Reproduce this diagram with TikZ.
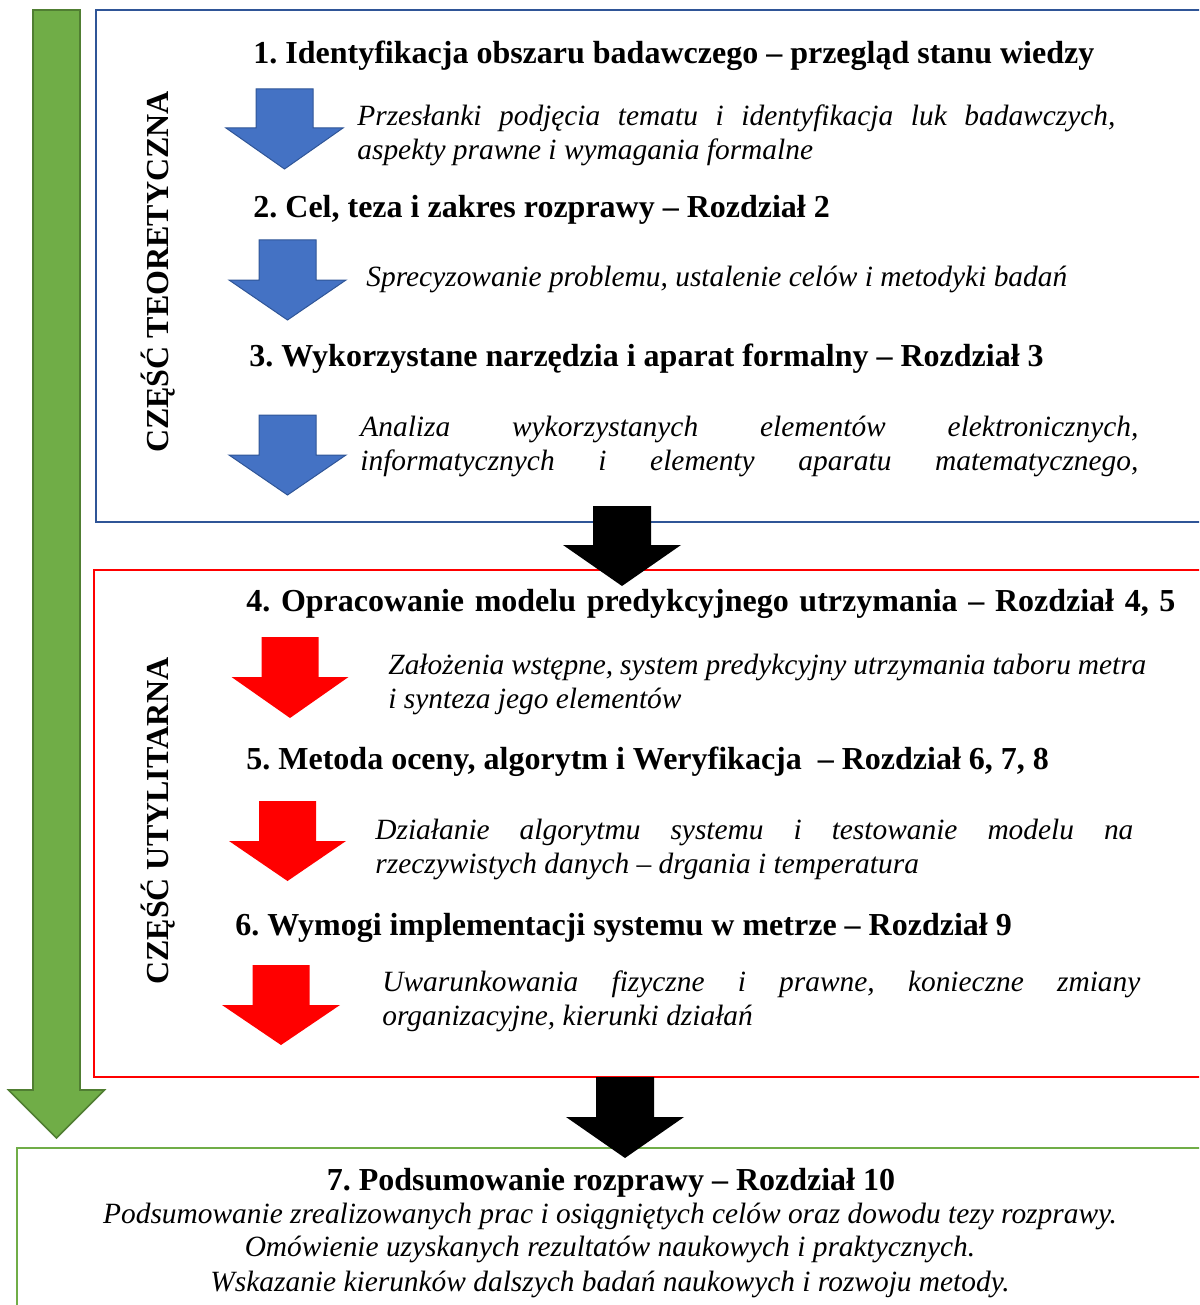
\documentclass[tikz,border=0pt]{standalone}
\usepackage{fontspec}
\setmainfont{Liberation Serif}
\frenchspacing
\definecolor{blueF}{HTML}{4472C4}
\definecolor{blueD}{HTML}{2F5597}
\definecolor{greenF}{HTML}{70AD47}
\definecolor{greenD}{HTML}{507E32}
\definecolor{redF}{HTML}{FF0000}

% block arrow pointing down: style, centre x, top y, head base y, tip y, shaft half width, head half width
\newcommand{\blkarrow}[7]{%
  \path[#1] (#2-#6,#3) -- (#2+#6,#3) -- (#2+#6,#4) -- (#2+#7,#4) -- (#2,#5)
    -- (#2-#7,#4) -- (#2-#6,#4) -- cycle;}

\tikzset{
  title/.style={anchor=base west, inner sep=0pt, font=\fontsize{16}{19}\selectfont\bfseries},
  desc/.style={anchor=base west, inner sep=0pt, font=\fontsize{14.7}{17}\selectfont\itshape},
  cdesc/.style={anchor=base, inner sep=0pt, font=\fontsize{14.7}{17}\selectfont\itshape},
  side/.style={rotate=90, inner sep=0pt, font=\fontsize{16}{19}\selectfont\bfseries},
  bluearrow/.style={fill=blueF, draw=blueD, line width=0.5pt},
  redarrow/.style={fill=redF},
  blackarrow/.style={fill=black},
  greenarrow/.style={fill=greenF, draw=greenD, line width=0.8pt},
  partbox/.style={line width=1pt}
}

\begin{document}
\begin{tikzpicture}[x=0.5pt, y=-0.5pt]
\useasboundingbox (0,0) rectangle (1199,1305);
\clip (0,0) rectangle (1199,1305);

% frames of the three parts
\draw[partbox, draw=blueD] (96,10) rectangle (1230,522);
\draw[partbox, draw=red] (94,570) rectangle (1230,1077);
\draw[partbox, draw=greenF] (17,1148) rectangle (1230,1340);

% long green arrow along the left side
\blkarrow{greenarrow}{56.5}{10}{1090}{1138}{23.5}{48}

% theoretical part
\node[side] (p1) at (158,272) {CZĘŚĆ TEORETYCZNA};
\node[title] (t1) at (253,64) {1. Identyfikacja obszaru badawczego – przegląd stanu wiedzy};
\blkarrow{bluearrow}{284.5}{89}{128}{169}{28.5}{58.5}
\node[desc] (d1a) at (357,126) {\makebox[379pt][s]{Przesłanki podjęcia tematu i identyfikacja luk badawczych,}};
\node[desc] (d1b) at (357,160) {aspekty prawne i wymagania formalne};
\node[title] (t2) at (253,218) {2. Cel, teza i zakres rozprawy – Rozdział 2};
\blkarrow{bluearrow}{287.5}{240}{280}{320}{28.5}{58.5}
\node[desc] (d2) at (366,286) {Sprecyzowanie problemu, ustalenie celów i metodyki badań};
\node[title] (t3) at (249,366) {3. Wykorzystane narzędzia i aparat formalny – Rozdział 3};
\blkarrow{bluearrow}{287.5}{415}{455}{495}{28.5}{58.5}
\node[desc] (d3a) at (360,436) {\makebox[389pt][s]{Analiza wykorzystanych elementów elektronicznych,}};
\node[desc] (d3b) at (360,470) {\makebox[389pt][s]{informatycznych i elementy aparatu matematycznego,}};

% utilitarian part
\node[side] (p2) at (158,821) {CZĘŚĆ UTYLITARNA};
\node[title] (t4) at (246,611) {\makebox[464.5pt][s]{4. Opracowanie modelu predykcyjnego utrzymania – Rozdział 4, 5}};
\blkarrow{redarrow}{290}{637}{677}{718}{28.5}{58.5}
\node[desc] (d4a) at (388,674) {\makebox[379pt][s]{Założenia wstępne, system predykcyjny utrzymania taboru metra}};
\node[desc] (d4b) at (388,708) {i synteza jego elementów};
\node[title] (t5) at (246,769) {5. Metoda oceny, algorytm i Weryfikacja \ – Rozdział 6, 7, 8};
\blkarrow{redarrow}{287.5}{801}{841}{881}{28.5}{58.5}
\node[desc] (d5a) at (375,839) {\makebox[379pt][s]{Działanie algorytmu systemu i testowanie modelu na}};
\node[desc] (d5b) at (375,873) {rzeczywistych danych – drgania i temperatura};
\node[title] (t6) at (235,935) {6. Wymogi implementacji systemu w metrze – Rozdział 9};
\blkarrow{redarrow}{281}{965}{1005}{1045}{28.5}{59}
\node[desc] (d6a) at (382,991) {\makebox[379pt][s]{Uwarunkowania fizyczne i prawne, konieczne zmiany}};
\node[desc] (d6b) at (382,1025) {organizacyjne, kierunki działań};

% black arrows between the parts
\blkarrow{blackarrow}{622}{506}{545}{586}{29}{59}
\blkarrow{blackarrow}{625}{1077}{1117}{1158}{29}{59}

% summary
\node[title, anchor=base] (t7) at (611,1190) {7. Podsumowanie rozprawy – Rozdział 10};
\node[cdesc] (d7a) at (610,1223) {Podsumowanie zrealizowanych prac i osiągniętych celów oraz dowodu tezy rozprawy.};
\node[cdesc] (d7b) at (610,1256) {Omówienie uzyskanych rezultatów naukowych i praktycznych.};
\node[cdesc] (d7c) at (610,1291) {Wskazanie kierunków dalszych badań naukowych i rozwoju metody.};
\end{tikzpicture}
\end{document}
